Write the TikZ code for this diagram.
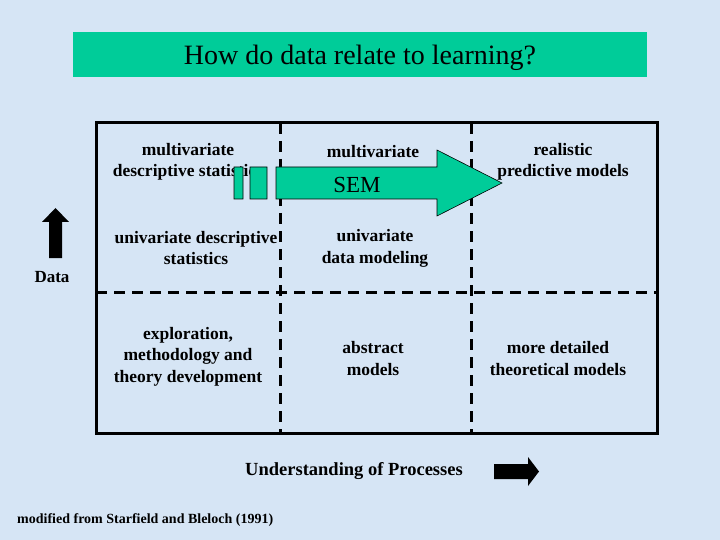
\documentclass[tikz,border=0pt]{standalone}
\usepackage{fontspec}
\setmainfont{Liberation Serif}
\usepackage{xcolor}
\definecolor{paleblue}{RGB}{214,229,245}
\definecolor{seagreen}{RGB}{0,204,153}

\begin{document}
\begin{tikzpicture}[x=1pt,y=-1pt,
  cell/.style={font=\fontsize{17.5}{21.5}\selectfont\bfseries,align=center,inner sep=0pt},
  grid/.style={line width=3pt,dash pattern=on 11pt off 7pt}]
\fill[paleblue] (0,0) rectangle (720,540);
% title
\node[fill=seagreen,minimum width=574pt,minimum height=45pt,inner sep=0pt,text height=27pt,text depth=7pt,font=\fontsize{28}{32}\selectfont] (title) at (360,54.5) {How do data relate to learning?};
% frame and dashed grid
\draw[grid] (280,123) -- (280,433) (471,123) -- (471,433);
\draw[grid] (96,292) -- (657,292);
\draw[line width=3pt] (96,123) rectangle (657,433);
% cells
\node[cell] (mds) at (188,162) {multivariate\\descriptive statistics};
\node[cell] (mv) at (373,151.5) {multivariate};
\node[cell] (rpm) at (563,162) {realistic\\predictive models};
\node[cell] (uds) at (196,248) {univariate descriptive\\statistics};
\node[cell] (udm) at (375,248.5) {univariate\\data modeling};
\node[cell] (emt) at (188,356.5) {exploration,\\methodology and\\theory development};
\node[cell] (abs) at (373,358.5) {abstract\\models};
\node[cell] (mdt) at (558,358.5) {more detailed\\theoretical models};
% SEM arrow
\filldraw[fill=seagreen,draw=black,line width=0.6pt]
  (234,167) rectangle (243,199) (250,167) rectangle (267,199)
  (276,167) -- (437,167) -- (437,150) -- (502,183) -- (437,216) -- (437,199) -- (276,199) -- cycle;
\node[font=\fontsize{23}{26}\selectfont,inner sep=0pt] (sem) at (357,185) {SEM};
% data axis
\fill[black] (49,258) -- (49,222) -- (42,222) -- (55.5,208) -- (69,222) -- (62,222) -- (62,258) -- cycle;
\node[font=\fontsize{17}{20}\selectfont\bfseries,inner sep=0pt] (data) at (52,277) {Data};
% process axis
\node[font=\fontsize{18.5}{21}\selectfont\bfseries,inner sep=0pt] (proc) at (354,471) {Understanding of Processes};
\fill[black] (494,464) -- (528,464) -- (528,457) -- (539,471.5) -- (528,486) -- (528,479) -- (494,479) -- cycle;
\node[font=\fontsize{14}{16}\selectfont\bfseries,anchor=west,inner sep=0pt] (src) at (17,520) {modified from Starfield and Bleloch (1991)};
\end{tikzpicture}
\end{document}
